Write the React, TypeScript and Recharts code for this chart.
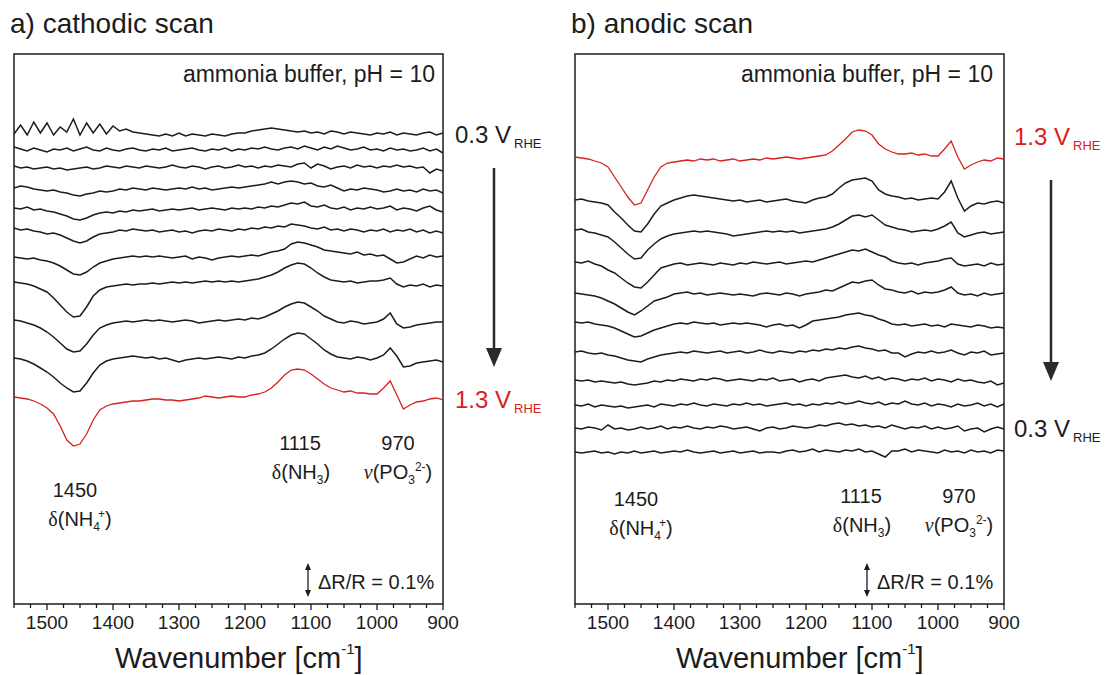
import React from "react";
import { LineChart, Line, XAxis, YAxis, ReferenceArea } from "recharts";

// wavenumber grid shared by every spectrum (cm^-1)
const wavenumbers = [
  1550, 1540, 1530, 1520, 1510, 1500, 1490, 1480, 1470, 1460,
  1450, 1440, 1430, 1420, 1410, 1400, 1390, 1380, 1370, 1360,
  1350, 1340, 1330, 1320, 1310, 1300, 1290, 1280, 1270, 1260,
  1250, 1240, 1230, 1220, 1210, 1200, 1190, 1180, 1170, 1160,
  1150, 1140, 1130, 1120, 1110, 1100, 1090, 1080, 1070, 1060,
  1050, 1040, 1030, 1020, 1010, 1000, 990, 980, 970, 960,
  950, 940, 930, 920, 910, 900,
];

const xTicks = [
  1550, 1525, 1500, 1475, 1450, 1425, 1400, 1375, 1350, 1325, 1300, 1275, 1250, 1225,
  1200, 1175, 1150, 1125, 1100, 1075, 1050, 1025, 1000, 975, 950, 925, 900,
];

// potentials of the traces, top to bottom (V_RHE)
const cathodicPotentials = [0.3, 0.4, 0.5, 0.6, 0.7, 0.8, 0.9, 1.0, 1.1, 1.2, 1.3];
const anodicPotentials = [1.3, 1.2, 1.1, 1.0, 0.9, 0.8, 0.7, 0.6, 0.5, 0.4, 0.3];

// stacking offsets (a.u.) for each trace
const cathodicOffsets = [470, 454, 437, 416, 396, 376, 347, 322, 284, 246, 207];
const anodicOffsets = [447, 404, 374, 342, 311, 282, 252, 224, 199, 176, 152];

// cathodic scan, signal relative to each trace's baseline (a.u.)
const cath03 = [0, 9, -1, 12, 1, 11, -1, 7, 2, 15, -1, 11, 1, 10, 0, 8, 3, 5, 2, 1, 0, -1, -2, 0, -2, 1, -2, 0, -1, -2, 0, -1, -2, 0, 1, 1, 3, 4, 5, 6, 5, 4, 3, 2, 3, 1, 2, 0, 3, 2, 0, 2, 1, 0, -1, 1, 0, 2, -1, 1, 0, -1, 1, 2, -1, 1];
const cath04 = [3, 1, -1, 2, 0, -2, 1, 0, 2, -1, 1, 3, 0, -1, 2, 0, -1, 1, 2, 0, -1, 1, 0, 2, -1, 0, 1, 2, 0, -1, 1, 0, 2, -1, 1, 0, 2, 1, 3, 1, 0, 2, 3, 1, 4, 2, 0, 3, 1, 4, 2, 0, 1, 3, 0, 1, -1, 2, 0, 1, -1, 0, 2, -1, 1, -3];
const cath05 = [1, -1, 0, -2, -1, 0, -2, -1, -3, -2, -1, 0, -2, -1, 1, 0, -1, 1, 0, -1, 1, 0, -1, 0, 2, 0, -1, 1, 0, -2, 0, 1, -1, 0, 2, 0, 1, -1, 1, 0, 2, 1, 0, 3, 4, -1, 3, 1, -2, 0, 1, -1, 2, 0, 1, -1, 1, 0, 2, 0, 1, -1, 0, -6, -2, -4];
const cath06 = [0, 2, 1, -1, -2, -3, -2, -4, -5, -7, -8, -6, -5, -3, -4, -3, -1, -2, 0, -1, -2, 0, -1, -2, -1, 0, -1, 1, -1, 0, -2, -1, 0, 1, 0, 1, 2, 3, 4, 6, 4, 6, 7, 6, 4, 5, 2, 1, 3, 0, -3, -1, -2, 0, -1, -2, -4, -3, -1, -3, -2, -4, -1, -3, -2, -5];
const cath07 = [0, -1, 1, -2, -1, -3, -4, -6, -8, -11, -12, -10, -7, -5, -4, -5, -3, -4, -2, -3, -2, -1, -3, -2, -1, -2, -1, 0, -2, -1, 0, -1, -2, 0, -1, 0, -1, 1, 0, 2, 1, 3, 5, 4, 6, 2, 1, 3, 0, -1, 1, -2, 0, -1, 1, -1, 0, 2, -2, 0, -1, -3, 0, 2, -2, -4];
const cath08 = [0, -2, -1, -3, -4, -6, -5, -7, -10, -13, -15, -13, -9, -6, -5, -4, -2, -3, -1, -2, -3, -2, -4, -3, -2, -4, -3, -5, -3, -2, -3, -1, -2, -3, -1, -2, 0, -1, 1, 0, 2, 1, 4, 3, 2, 0, -1, 1, -2, -1, -3, -1, -2, -4, -2, -3, -1, -4, -2, -3, -1, -4, -2, -5, -3, -5];
const cath09 = [0, -1, -2, -1, -3, -4, -6, -9, -13, -17, -18, -15, -10, -6, -4, -2, -1, 0, 1, 0, 1, 0, 1, 0, -1, 0, 1, -2, 0, -1, -3, -1, 0, 1, 0, 1, 2, 1, 3, 5, 6, 8, 13, 15, 14, 12, 10, 7, 6, 5, 4, 3, 5, 2, 3, 1, 2, -2, -6, -5, -2, 1, -1, 2, 0, 1];
const cath10 = [0, -1, -2, -4, -7, -10, -16, -23, -30, -35, -34, -25, -14, -8, -5, -4, -3, -2, -3, -2, -2, -1, -2, -1, 0, -1, 0, -1, 0, 1, 0, 1, 0, 1, 0, 1, 2, 3, 5, 7, 10, 14, 17, 19, 18, 14, 9, 5, 2, 1, 0, 1, -1, 0, 1, 1, 2, 4, -2, -5, -3, -4, -2, -5, -3, -4];
const cath11 = [0, -1, -3, -5, -8, -12, -17, -23, -29, -32, -31, -24, -15, -8, -5, -3, -2, -1, -2, -1, 0, -1, 0, -1, -2, -1, 0, -1, -3, -2, -1, 0, -1, 0, 1, 0, 2, 1, 3, 6, 9, 13, 16, 18, 17, 13, 9, 4, 1, -2, -3, -1, -2, -4, -3, -2, 1, 7, -4, -8, -7, -5, -4, -3, -2, -2];
const cath12 = [0, -1, -3, -6, -10, -14, -19, -25, -30, -34, -33, -25, -15, -7, -3, -1, 0, 1, 2, 1, 0, 1, -1, 0, -2, -4, -2, -1, 0, -1, 0, 1, 0, -1, 1, 0, 2, 3, 5, 9, 14, 19, 23, 25, 24, 19, 14, 8, 4, 1, 0, -1, 1, 0, -2, 0, 3, 10, 2, -9, -8, -5, -4, -3, -2, -4];
const cath13 = [0, -1, -2, -4, -7, -11, -17, -29, -43, -49, -47, -37, -23, -13, -9, -7, -6, -5, -4, -4, -3, -2, -2, -3, -3, -4, -3, -2, -1, 1, 0, -1, 0, 1, 0, 0, 2, 3, 5, 9, 15, 22, 27, 28, 27, 23, 18, 13, 9, 7, 5, 6, 4, 4, 3, 3, 9, 16, 2, -12, -8, -5, -4, -2, -1, -3];

// anodic scan
const anod13 = [0, -1, -2, -4, -6, -10, -20, -30, -40, -48, -46, -33, -20, -10, -6, -5, -4, -3, -4, -2, -3, -2, -4, -3, -2, -4, -3, -2, -3, -1, -2, -1, 0, -1, -2, -1, 0, 1, 2, 6, 12, 18, 25, 27, 26, 22, 13, 8, 5, 3, 3, 4, 2, 3, 1, 1, 8, 16, 0, -12, -8, -5, -3, -4, -1, -2];
const anod12 = [0, 1, -1, -2, -3, -5, -12, -18, -25, -31, -32, -24, -14, -6, -3, 0, 2, 4, 5, 4, 3, 2, 1, 0, -1, 0, -2, -1, 0, -2, -1, 0, 1, -1, -2, -3, 0, 2, 3, 6, 12, 17, 20, 21, 22, 19, 10, 6, 4, 3, 1, 2, 0, 1, 2, 1, 8, 19, 2, -11, -6, -3, -4, -2, -1, -3];
const anod11 = [0, 1, -2, -3, -5, -7, -12, -18, -24, -29, -28, -20, -14, -9, -6, -4, -3, -2, -1, -2, -1, -2, -3, -4, -6, -5, -4, -3, -2, -1, -2, -1, -2, -1, -3, -2, -1, 0, 1, 3, 6, 10, 14, 15, 13, 15, 10, 5, 3, 1, 0, -2, -1, 0, -1, 1, 4, 8, -3, -7, -5, -3, -2, -4, -3, -2];
const anod10 = [0, -1, 1, -2, -4, -8, -11, -16, -21, -25, -26, -20, -13, -6, -4, -2, -1, -3, -2, -1, -2, -3, -1, -2, -3, -1, -2, 0, -1, -2, -1, 0, -2, -1, 0, 1, 0, 2, 4, 6, 8, 10, 12, 11, 13, 10, 7, 5, 1, -1, -2, -1, -3, -1, 0, 1, 3, 4, -2, -4, -3, -2, -4, -1, -3, -2];
const anod09 = [0, -1, -2, -3, -5, -8, -11, -15, -19, -22, -18, -13, -8, -6, -4, -1, 0, 1, -1, 0, -2, -1, 0, -1, -2, -1, -2, -3, -1, 0, -1, -2, 0, -1, -3, -1, 0, 1, 3, 2, 5, 8, 11, 10, 12, 13, 8, 4, 3, 1, 0, 2, -1, 1, 0, 1, 3, 6, 0, -2, -1, -3, 0, -2, -1, 0];
const anod08 = [0, -1, 0, -2, -3, -4, -6, -9, -12, -15, -14, -11, -8, -6, -4, -2, -1, -2, 0, -1, -2, -1, -3, -2, -1, -2, -1, -2, -3, -5, -3, -2, -4, -3, -6, -3, 1, 2, 3, 4, 5, 7, 8, 9, 7, 6, 3, 1, -2, -3, -2, -4, -3, -2, -4, -3, -5, -2, -3, -4, -5, -3, -4, -6, -5, -6];
const anod07 = [0, 1, -1, -2, -1, -3, -4, -6, -8, -9, -10, -7, -5, -3, -2, -1, 0, -1, 1, 0, -1, 0, 1, -1, 0, 1, -1, 0, 2, 0, -1, 1, 0, -1, 1, 0, 2, 1, 3, 2, 4, 3, 5, 6, 4, 3, 1, 2, -1, -1, -5, -2, 0, -1, 1, -1, 0, 2, -1, -3, 0, -1, 1, -3, -2, -1];
const anod06 = [0, -1, 0, -2, -1, -2, -3, -2, -4, -5, -4, -3, -1, -2, 0, -1, 1, 0, -1, 1, 0, 2, 1, -1, 0, 1, 0, -1, 1, 0, 2, -1, 0, 1, -2, 0, 1, -1, 2, 3, 4, 5, 3, 2, 4, 1, 3, 0, 2, 1, -1, 1, 0, 2, -1, 1, 0, -2, 1, -1, 0, -2, -3, -1, -5, -3];
const anod05 = [0, -1, 1, -2, 0, -1, -2, -1, -3, -2, -1, 0, -2, 1, 0, -1, 1, 0, 2, 0, -1, 1, 0, -1, 1, 0, 2, 0, 1, -1, 0, 1, 2, 0, 1, -1, 1, 0, 2, 1, 3, 1, 2, 4, 2, 1, 3, 0, 2, 1, 4, 1, 0, 2, -1, 1, 0, -2, 1, -1, 0, 2, -1, 1, -2, 1];
const anod04 = [0, -1, 1, 0, -2, 3, -1, 0, -2, -1, 1, -1, 0, 2, -1, 1, 0, 2, 0, -1, 1, 0, 2, 1, -1, 0, 1, -1, -3, 0, 1, -1, 0, 2, 1, 0, 1, 3, 2, 4, 5, 3, 4, 2, 3, 1, 2, 0, 3, 1, -1, 1, 0, 2, -1, 1, -1, 0, 2, -3, -1, 0, -4, -1, 1, -1];
const anod03 = [0, -1, 0, 1, -1, 0, -2, 0, -1, 1, -1, 0, 1, -1, 0, 1, 0, 2, 0, -1, 0, 1, -1, 0, 1, -1, 0, 1, -1, 0, 0, -1, 1, 2, 0, 1, 3, 0, 2, 1, 0, 2, 1, 3, 0, 1, -2, -5, 1, 1, 3, 0, 2, 1, 0, -1, 2, 0, 1, -1, 2, 0, 1, -1, 2, 1];

const cathodicSeries = [cath03, cath04, cath05, cath06, cath07, cath08, cath09, cath10, cath11, cath12, cath13];
const anodicSeries = [anod13, anod12, anod11, anod10, anod09, anod08, anod07, anod06, anod05, anod04, anod03];

const INK = "#1c1c1c";
const RED = "#d8211c";
const FONT = "'Liberation Sans', Arial, Helvetica, sans-serif";
const GREEK = "'Liberation Serif', 'DejaVu Serif', serif";

function buildRows(series: number[][], offsets: number[]) {
  return wavenumbers.map((wn, i) => {
    const row: Record<string, number> = { wn };
    series.forEach((s, k) => {
      row["s" + k] = offsets[k] + s[i];
    });
    return row;
  });
}

const cathodicRows = buildRows(cathodicSeries, cathodicOffsets);
const anodicRows = buildRows(anodicSeries, anodicOffsets);

function WaveTick(props: any) {
  const { x, y, payload } = props;
  const major = payload.value % 100 === 0;
  return (
    <g>
      <line x1={x} x2={x} y1={y} y2={y + (major ? 6 : 4)} stroke={INK} strokeWidth={1.3} />
      {major && (
        <text x={x} y={y + 25} textAnchor="middle" fontSize={19} fill={INK} fontFamily={FONT}>
          {payload.value}
        </text>
      )}
    </g>
  );
}

function SpectraPanel({ left, rows, potentials }: { left: number; rows: any[]; potentials: number[] }) {
  return (
    <div style={{ position: "absolute", left, top: 0 }}>
      <LineChart width={460} height={675} data={rows} margin={{ top: 54, right: 17, bottom: 0, left: 14 }}>
        <XAxis
          dataKey="wn"
          type="number"
          domain={[900, 1550]}
          reversed
          ticks={xTicks}
          interval={0}
          height={71}
          tickSize={0}
          tickMargin={0}
          tickLine={false}
          axisLine={false}
          tick={<WaveTick />}
          allowDataOverflow
        />
        <YAxis hide type="number" domain={[0, 550]} width={0} allowDataOverflow />
        <ReferenceArea
          x1={1550}
          x2={900}
          y1={0}
          y2={550}
          fill="none"
          stroke={INK}
          strokeWidth={1.5}
          ifOverflow="visible"
        />
        {potentials.map((p, k) => (
          <Line
            key={k}
            dataKey={"s" + k}
            name={p + " V"}
            type="linear"
            stroke={p === 1.3 ? RED : INK}
            strokeWidth={p === 1.3 ? 1.3 : 1.5}
            dot={false}
            isAnimationActive={false}
          />
        ))}
      </LineChart>
    </div>
  );
}

function DoubleArrow({ x, y1, y2 }: { x: number; y1: number; y2: number }) {
  return (
    <g fill={INK} stroke="none">
      <line x1={x} x2={x} y1={y1 + 4} y2={y2 - 4} stroke={INK} strokeWidth={1.3} />
      <polygon points={`${x - 3},${y1 + 7} ${x + 3},${y1 + 7} ${x},${y1}`} />
      <polygon points={`${x - 3},${y2 - 7} ${x + 3},${y2 - 7} ${x},${y2}`} />
    </g>
  );
}

function DownArrow({ x, y1, y2 }: { x: number; y1: number; y2: number }) {
  return (
    <g fill="#2a2a2a">
      <line x1={x} x2={x} y1={y1} y2={y2 - 16} stroke="#2a2a2a" strokeWidth={2.5} />
      <polygon points={`${x - 8},${y2 - 19} ${x + 8},${y2 - 19} ${x},${y2}`} />
    </g>
  );
}

function Potential({ x, y, value, color }: { x: number; y: number; value: string; color: string }) {
  return (
    <text x={x} y={y} fontSize={24} fill={color}>
      {value} V
      <tspan fontSize={13} dx={3} dy={5}>
        RHE
      </tspan>
    </text>
  );
}

function BandLabels({ dx, y1450, y1115 }: { dx: number; y1450: number; y1115: number }) {
  return (
    <g fontSize={20} fill={INK} textAnchor="middle">
      <text x={75 + dx} y={y1450}>1450</text>
      <text x={80 + dx} y={y1450 + 29}>
        <tspan fontFamily={GREEK}>δ</tspan>(NH
        <tspan fontSize={12} dy={5}>4</tspan>
        <tspan fontSize={12} dy={-13} dx={-2}>+</tspan>
        <tspan dy={8}>)</tspan>
      </text>
      <text x={300 + dx} y={y1115}>1115</text>
      <text x={301 + dx} y={y1115 + 29}>
        <tspan fontFamily={GREEK}>δ</tspan>(NH
        <tspan fontSize={12} dy={5}>3</tspan>
        <tspan dy={-5}>)</tspan>
      </text>
      <text x={398 + dx} y={y1115}>970</text>
      <text x={398 + dx} y={y1115 + 29}>
        <tspan fontFamily={GREEK} fontStyle="italic">ν</tspan>(PO
        <tspan fontSize={12} dy={5}>3</tspan>
        <tspan fontSize={12} dy={-13}>2-</tspan>
        <tspan dy={8}>)</tspan>
      </text>
    </g>
  );
}

function Overlay() {
  return (
    <svg
      width={1110}
      height={675}
      style={{ position: "absolute", left: 0, top: 0, pointerEvents: "none" }}
      fontFamily={FONT}
    >
      <g fill={INK}>
        <text x={10} y={33} fontSize={28}>a) cathodic scan</text>
        <text x={571} y={33} fontSize={28}>b) anodic scan</text>
        <text x={435} y={82} fontSize={23} textAnchor="end">ammonia buffer, pH = 10</text>
        <text x={993} y={82} fontSize={23} textAnchor="end">ammonia buffer, pH = 10</text>

        <text x={115} y={668} fontSize={29}>
          Wavenumber [cm<tspan fontSize={15} dy={-14}>-1</tspan>
          <tspan dy={14}>]</tspan>
        </text>
        <text x={676} y={668} fontSize={29}>
          Wavenumber [cm<tspan fontSize={15} dy={-14}>-1</tspan>
          <tspan dy={14}>]</tspan>
        </text>

        <text x={318} y={589} fontSize={20}>ΔR/R = 0.1%</text>
        <text x={877} y={589} fontSize={20}>ΔR/R = 0.1%</text>
      </g>
      <DoubleArrow x={308} y1={563} y2={597} />
      <DoubleArrow x={867} y1={563} y2={597} />

      <BandLabels dx={0} y1450={497} y1115={450} />
      <BandLabels dx={561} y1450={506} y1115={503} />

      <Potential x={455} y={143} value="0.3" color={INK} />
      <DownArrow x={494} y1={168} y2={367} />
      <Potential x={455} y={408} value="1.3" color={RED} />

      <Potential x={1014} y={145} value="1.3" color={RED} />
      <DownArrow x={1051} y1={180} y2={381} />
      <Potential x={1014} y={437} value="0.3" color={INK} />
    </svg>
  );
}

export default function App() {
  return (
    <div
      style={{
        position: "absolute",
        left: 0,
        top: 0,
        width: 1110,
        height: 675,
        background: "#fff",
        fontFamily: FONT,
        overflow: "hidden",
      }}
    >
      <SpectraPanel left={0} rows={cathodicRows} potentials={cathodicPotentials} />
      <SpectraPanel left={561} rows={anodicRows} potentials={anodicPotentials} />
      <Overlay />
    </div>
  );
}
